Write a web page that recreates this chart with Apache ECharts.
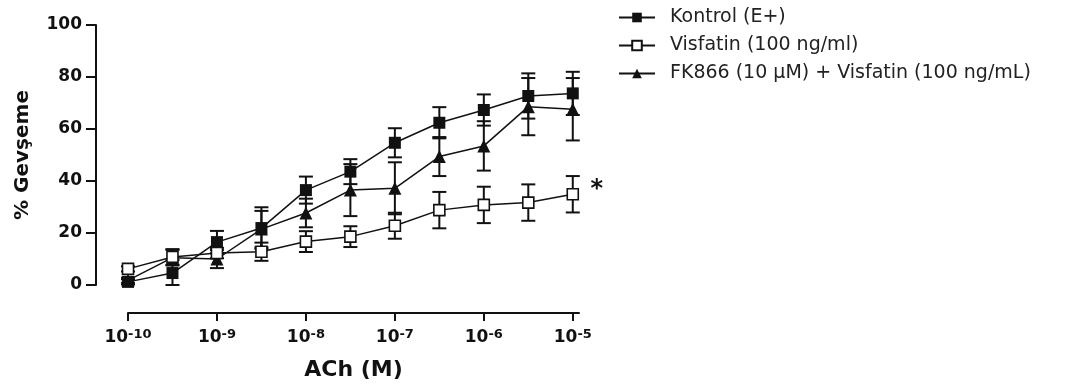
<!DOCTYPE html>
<html>
<head>
<meta charset="utf-8">
<script src="https://cdn.jsdelivr.net/npm/echarts@6/dist/echarts.min.js"></script>
<style>
html,body{margin:0;padding:0;background:#fff;}
#chart{width:1067px;height:387px;}
</style>
</head>
<body>
<div id="chart"></div>
<script>
// log10 of ACh concentration (M)
var logConc = [-10, -9.5, -9, -8.5, -8, -7.5, -7, -6.5, -6, -5.5, -5];
var tickExponents = [-10, -9, -8, -7, -6, -5];
var yTicks = [0, 20, 40, 60, 80, 100];

var seriesNames = ['Kontrol (E+)', 'Visfatin (100 ng/ml)', 'FK866 (10 µM) + Visfatin (100 ng/mL)'];

var kontrolMean = [1.2, 4.6, 16.5, 21.9, 36.5, 43.6, 54.7, 62.4, 67.3, 72.7, 73.7];
var kontrolErr  = [1.0, 5.0, 4.3, 8.0, 5.2, 4.8, 5.6, 6.0, 6.0, 8.7, 8.3];

var visfatinMean = [6.2, 10.8, 12.3, 12.8, 16.7, 18.6, 22.8, 28.8, 30.8, 31.7, 34.9];
var visfatinErr  = [1.0, 3.0, 2.0, 3.5, 4.0, 4.0, 5.0, 7.0, 7.0, 7.0, 7.0];

var fkMean = [1.8, 10.5, 10.0, 21.5, 27.7, 36.5, 37.2, 49.4, 53.5, 68.6, 67.6];
var fkErr  = [1.0, 3.0, 3.5, 7.0, 5.5, 10.0, 10.0, 7.5, 9.5, 11.0, 12.0];

var significanceMark = '*';

var FONT = '"DejaVu Sans", Arial, sans-serif';
var INK = '#111';

function pairs(xs, ys) { return xs.map(function (x, i) { return [x, ys[i]]; }); }
function triples(xs, ys, es) { return xs.map(function (x, i) { return [x, ys[i], es[i]]; }); }

function errorSeries(name, xs, ys, es) {
  return {
    type: 'custom',
    name: name,
    clip: false,
    z: 1,
    encode: { x: 0, y: 1 },
    data: triples(xs, ys, es),
    renderItem: function (params, api) {
      var x = api.value(0), m = api.value(1), e = api.value(2);
      var top = api.coord([x, m + e]);
      var bot = api.coord([x, Math.max(0, m - e)]);
      var w = 7;
      var st = { stroke: INK, lineWidth: 2 };
      return {
        type: 'group',
        children: [
          { type: 'line', shape: { x1: top[0], y1: top[1], x2: bot[0], y2: bot[1] }, style: st },
          { type: 'line', shape: { x1: top[0] - w, y1: top[1], x2: top[0] + w, y2: top[1] }, style: st },
          { type: 'line', shape: { x1: bot[0] - w, y1: bot[1], x2: bot[0] + w, y2: bot[1] }, style: st }
        ]
      };
    }
  };
}

var chart = echarts.init(document.getElementById('chart'), null, { renderer: 'canvas' });

chart.setOption({
  animation: false,
  backgroundColor: '#fff',
  grid: { left: 128, right: 488, top: 25, bottom: 102, containLabel: false },
  legend: {
    orient: 'vertical',
    left: 613,
    top: 3,
    itemWidth: 36,
    itemHeight: 12,
    itemGap: 9,
    data: seriesNames,
    textStyle: { fontFamily: FONT, fontSize: 19, color: '#222', lineHeight: 19, padding: [0, 0, 0, 10] }
  },
  xAxis: {
    type: 'value',
    min: -10,
    max: -4.93,
    offset: 28,
    splitLine: { show: false },
    axisLine: { onZero: false, lineStyle: { color: INK, width: 2 } },
    axisTick: { show: true, length: 8, customValues: tickExponents, lineStyle: { color: INK, width: 2 } },
    axisLabel: {
      customValues: tickExponents,
      margin: 15,
      formatter: function (v) { return '{b|10}{s|' + v + '}'; },
      rich: {
        b: { fontFamily: FONT, fontSize: 17, fontWeight: 'bold', color: INK, lineHeight: 20 },
        s: { fontFamily: FONT, fontSize: 13, fontWeight: 'bold', color: INK, lineHeight: 14, verticalAlign: 'top' }
      }
    },
    name: 'ACh (M)',
    nameLocation: 'middle',
    nameGap: 46,
    nameTextStyle: { fontFamily: FONT, fontSize: 22, fontWeight: 'bold', color: INK }
  },
  yAxis: {
    type: 'value',
    min: 0,
    max: 100,
    interval: 20,
    offset: 32,
    splitLine: { show: false },
    axisLine: { show: true, onZero: false, lineStyle: { color: INK, width: 2 } },
    axisTick: { show: true, length: 10, customValues: yTicks, lineStyle: { color: INK, width: 2 } },
    axisLabel: {
      margin: 14,
      fontFamily: FONT, fontSize: 17, fontWeight: 'bold', color: INK
    },
    name: '% Gevşeme',
    nameLocation: 'middle',
    nameRotate: 90,
    nameGap: 63,
    nameTextStyle: { fontFamily: FONT, fontSize: 20, fontWeight: 'bold', color: INK }
  },
  series: [
    errorSeries('err0', logConc, kontrolMean, kontrolErr),
    errorSeries('err1', logConc, visfatinMean, visfatinErr),
    errorSeries('err2', logConc, fkMean, fkErr),
    {
      type: 'line', name: seriesNames[0], z: 3, clip: false,
      data: pairs(logConc, kontrolMean),
      symbol: 'rect', symbolSize: 12,
      itemStyle: { color: INK, borderColor: INK, borderWidth: 0 },
      lineStyle: { color: INK, width: 1.5 }
    },
    {
      type: 'line', name: seriesNames[1], z: 4, clip: false,
      data: pairs(logConc, visfatinMean),
      symbol: 'rect', symbolSize: 11,
      itemStyle: { color: '#fff', borderColor: INK, borderWidth: 1.6 },
      lineStyle: { color: INK, width: 1.5 },
      markPoint: {
        symbol: 'circle', symbolSize: 0,
        data: [{ coord: [logConc[logConc.length - 1], visfatinMean[visfatinMean.length - 1]] }],
        label: {
          show: true, formatter: significanceMark, position: 'inside', offset: [24, -4],
          fontFamily: FONT, fontSize: 24, fontWeight: 'bold', color: INK
        }
      }
    },
    {
      type: 'line', name: seriesNames[2], z: 3, clip: false,
      data: pairs(logConc, fkMean),
      symbol: 'triangle', symbolSize: 13,
      itemStyle: { color: INK, borderColor: INK, borderWidth: 0 },
      lineStyle: { color: INK, width: 1.5 }
    }
  ]
});
</script>
</body>
</html>
